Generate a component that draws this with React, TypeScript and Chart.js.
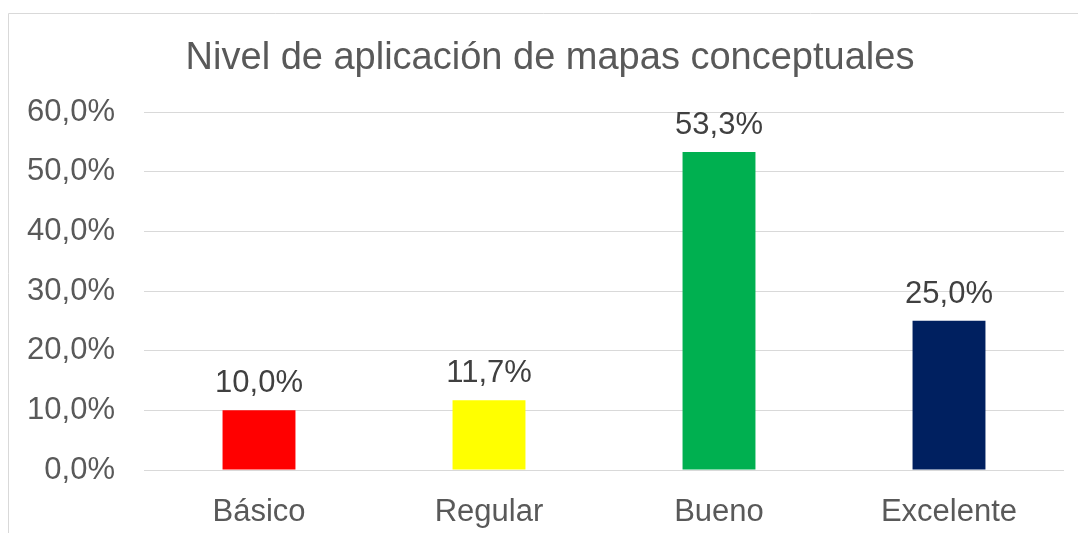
import React, { useEffect, useRef } from "react";
import { Chart, registerables } from "chart.js";

Chart.register(...registerables);

const TITLE = "Nivel de aplicación de mapas conceptuales";
const categories = ["Básico", "Regular", "Bueno", "Excelente"];
const values = [10.0, 11.7, 53.3, 25.0];
const barColors = ["#FF0000", "#FFFF00", "#00B050", "#002060"];
const yTicksMin = 0;
const yTicksMax = 60;
const yTicksStep = 10;

const FONT = "'Liberation Sans', Arial, sans-serif";
const fmt = (v: number) => v.toFixed(1).replace(".", ",") + "%";

const framePlugin = {
  id: "frameAndTitle",
  beforeDraw(chart: any) {
    const ctx = chart.ctx;
    ctx.save();
    ctx.strokeStyle = "#D9D9D9";
    ctx.lineWidth = 1;
    ctx.beginPath();
    ctx.moveTo(8.5, 533);
    ctx.lineTo(8.5, 13.5);
    ctx.lineTo(1078, 13.5);
    ctx.stroke();
    ctx.fillStyle = "#595959";
    ctx.font = `38px ${FONT}`;
    ctx.textAlign = "center";
    ctx.textBaseline = "alphabetic";
    ctx.fillText(TITLE, 550, 69);
    ctx.restore();
  },
};

const dataLabelPlugin = {
  id: "dataLabels",
  afterDatasetsDraw(chart: any) {
    const ctx = chart.ctx;
    const meta = chart.getDatasetMeta(0);
    ctx.save();
    ctx.fillStyle = "#404040";
    ctx.font = `31px ${FONT}`;
    ctx.textAlign = "center";
    ctx.textBaseline = "alphabetic";
    meta.data.forEach((el: any, i: number) => {
      ctx.fillText(fmt(values[i]), el.x, el.y - 18);
    });
    ctx.restore();
  },
};

export default function App() {
  const ref = useRef<HTMLCanvasElement | null>(null);

  useEffect(() => {
    if (!ref.current) return;
    const chart = new Chart(ref.current, {
      type: "bar",
      data: {
        labels: categories,
        datasets: [
          {
            data: values,
            backgroundColor: barColors,
            borderWidth: 0,
            categoryPercentage: 1,
            barPercentage: 0.317,
          },
        ],
      },
      options: {
        responsive: false,
        animation: false,
        layout: { padding: { left: 0, top: 112, right: 14, bottom: 0 } },
        plugins: {
          legend: { display: false },
          title: { display: false },
          tooltip: { enabled: false },
        },
        scales: {
          x: {
            grid: { display: false },
            border: { display: false },
            ticks: {
              color: "#595959",
              font: { family: FONT, size: 31 },
              padding: 16,
              maxRotation: 0,
            },
            afterFit: (s: any) => {
              s.height = 63;
            },
          },
          y: {
            min: yTicksMin,
            max: yTicksMax,
            grid: { color: "#D9D9D9", lineWidth: 1, drawTicks: false },
            border: { display: false },
            ticks: {
              stepSize: yTicksStep,
              color: "#595959",
              font: { family: FONT, size: 31 },
              padding: 29,
              callback: (v: any) => fmt(Number(v)),
            },
            afterFit: (s: any) => {
              s.width = 144;
            },
          },
        },
      },
      plugins: [framePlugin, dataLabelPlugin],
    });
    return () => chart.destroy();
  }, []);

  return (
    <div style={{ position: "absolute", left: 0, top: 0, width: 1078, height: 533, background: "#fff" }}>
      <canvas ref={ref} width={1078} height={533} style={{ display: "block" }} />
    </div>
  );
}
